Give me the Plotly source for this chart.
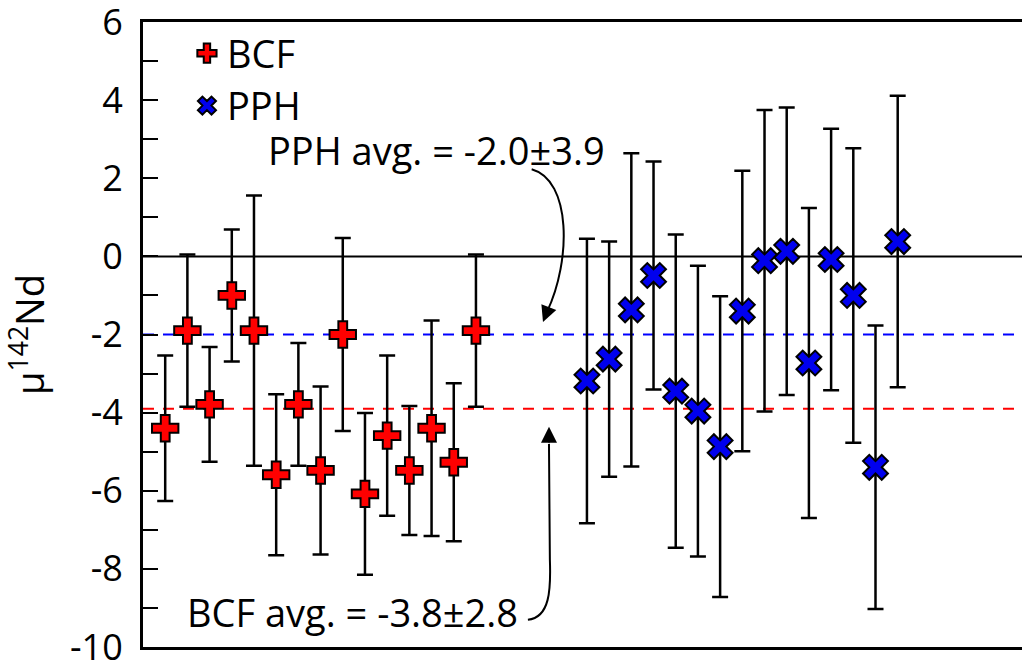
import plotly.graph_objects as go

# ---- data ----
bcf_x = list(range(1, 16))
bcf_y = [-4.40, -1.90, -3.79, -1.00, -1.90, -5.59, -3.79, -5.48, -2.00, -6.08, -4.59, -5.48, -4.40, -5.27, -1.90]
bcf_err = [1.86, 1.95, 1.47, 1.69, 3.46, 2.06, 1.57, 2.15, 2.47, 2.07, 2.05, 1.65, 2.76, 2.02, 1.95]

pph_x = list(range(20, 35))
pph_y = [-3.19, -2.63, -1.37, -0.49, -3.45, -3.96, -4.87, -1.40, -0.11, 0.13, -2.73, -0.08, -1.00, -5.40, 0.38]
pph_err = [3.64, 3.01, 4.01, 2.92, 4.01, 3.72, 3.85, 3.59, 3.86, 3.68, 3.97, 3.35, 3.77, 3.63, 3.73]

pph_avg_line = -2.0
bcf_avg_line = -3.9
pph_label = "PPH avg. = -2.0±3.9"
bcf_label = "BCF avg. = -3.8±2.8"

y_ticks = list(range(-10, 7, 2))
y_ticktext = [str(v) for v in y_ticks]

# arrow curve control points (data coords)
pph_curve = [(17.51, 2.23), (19.30, 1.95), (19.30, -0.10), (18.20, -1.42)]
pph_tip = (18.02, -1.68)
bcf_curve = [(17.34, -9.30), (18.33, -9.25), (18.38, -8.53), (18.33, -7.76)]
bcf_line_end = (18.29, -4.80)
bcf_tip = (18.29, -4.36)

FONT = "Open Sans"

fig = go.Figure()

fig.add_trace(go.Scatter(
    x=bcf_x, y=bcf_y, mode="markers", name="BCF",
    marker=dict(symbol="cross", size=22, color="#ff0000", line=dict(color="black", width=2)),
    error_y=dict(type="data", array=bcf_err, visible=True, color="black", thickness=2.5, width=8),
))
fig.add_trace(go.Scatter(
    x=pph_x, y=pph_y, mode="markers", name="PPH",
    marker=dict(symbol="x", size=22, color="#0000ee", line=dict(color="black", width=2)),
    error_y=dict(type="data", array=pph_err, visible=True, color="black", thickness=2.5, width=8),
))

# reference lines
fig.add_shape(type="line", xref="paper", x0=0, x1=1, yref="y", y0=0, y1=0,
              line=dict(color="black", width=2), layer="below")
fig.add_shape(type="line", xref="paper", x0=0, x1=1, yref="y", y0=pph_avg_line, y1=pph_avg_line,
              line=dict(color="#0000ff", width=2, dash="11px,9px"), layer="below")
fig.add_shape(type="line", xref="paper", x0=0, x1=1, yref="y", y0=bcf_avg_line, y1=bcf_avg_line,
              line=dict(color="#ff0000", width=2, dash="11px,9px"), layer="below")

def cubic_path(pts, extra=None):
    p0, p1, p2, p3 = pts
    s = f"M {p0[0]},{p0[1]} C {p1[0]},{p1[1]} {p2[0]},{p2[1]} {p3[0]},{p3[1]}"
    if extra:
        s += f" L {extra[0]},{extra[1]}"
    return s

fig.add_shape(type="path", xref="x", yref="y", path=cubic_path(pph_curve),
              line=dict(color="black", width=2))
fig.add_shape(type="path", xref="x", yref="y", path=cubic_path(bcf_curve, bcf_line_end),
              line=dict(color="black", width=2))

# arrowheads
fig.add_annotation(x=pph_tip[0], y=pph_tip[1], ax=pph_curve[3][0], ay=pph_curve[3][1],
                   axref="x", ayref="y", xref="x", yref="y", text="", showarrow=True,
                   arrowhead=2, arrowsize=1.6, arrowwidth=2, arrowcolor="black", standoff=0)
fig.add_annotation(x=bcf_tip[0], y=bcf_tip[1], ax=bcf_line_end[0], ay=bcf_line_end[1],
                   axref="x", ayref="y", xref="x", yref="y", text="", showarrow=True,
                   arrowhead=2, arrowsize=1.6, arrowwidth=2, arrowcolor="black", standoff=0)

# labels
fig.add_annotation(x=13.2, y=2.73, xref="x", yref="y", text=pph_label, showarrow=False,
                   font=dict(family=FONT, size=38, color="black"))
fig.add_annotation(x=9.46, y=-9.10, xref="x", yref="y", text=bcf_label, showarrow=False,
                   font=dict(family=FONT, size=38, color="black"))

fig.update_layout(
    width=1022, height=662,
    margin=dict(l=143, r=0, t=22, b=15),
    plot_bgcolor="white", paper_bgcolor="white",
    font=dict(family=FONT, color="black"),
    showlegend=True,
    legend=dict(x=0.05, y=1.0, xanchor="left", yanchor="top", bgcolor="rgba(0,0,0,0)",
                font=dict(family=FONT, size=38, color="black"), tracegroupgap=0,
                itemsizing="trace"),
    xaxis=dict(range=[0, 39.6], showgrid=False, zeroline=False, showticklabels=False,
               ticks="", showline=True, linecolor="black", linewidth=3, mirror=True,
               automargin=False),
    yaxis=dict(range=[-10, 6], showgrid=False, zeroline=False, tickmode="array",
               tickvals=y_ticks, ticktext=y_ticktext, ticks="inside", ticklen=15,
               tickwidth=1.5, tickcolor="black", showline=True, linecolor="black", linewidth=3,
               ticklabelstandoff=10, ticklabeloverflow="allow", automargin=False,
               minor=dict(dtick=1, tick0=0, ticks="inside", ticklen=15, tickwidth=1.5,
                          tickcolor="black", showgrid=False),
               tickfont=dict(family=FONT, size=36, color="black"),
               title=dict(text="μ<sup>142</sup>Nd", font=dict(family=FONT, size=38, color="black"),
                          standoff=30)),
)

fig.write_html("out.html")
